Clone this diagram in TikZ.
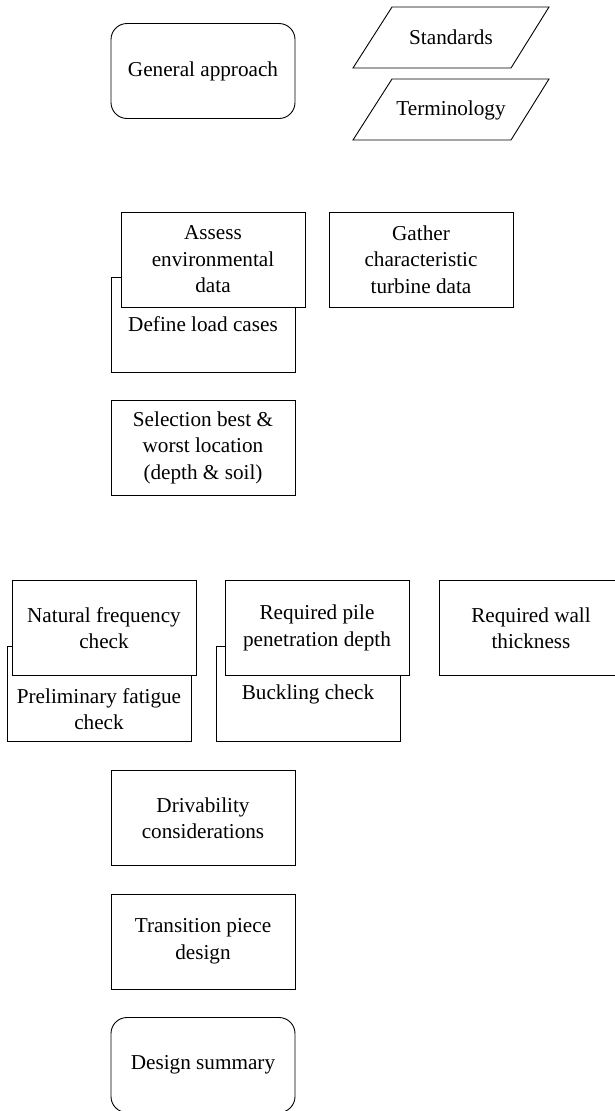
\documentclass[tikz,border=0pt]{standalone}
\usepackage{fontspec}
\setmainfont{Liberation Serif}

\tikzset{
	txt/.style={align=center, inner sep=0pt, font=\fontsize{21.2}{26.5}\selectfont},
	box/.style={txt, draw, fill=white, line width=0.9pt, minimum width=184pt, minimum height=95pt},
	terminal/.style={box, rounded corners=16pt},
	io/.style={line width=0.9pt, fill=white},
}

\begin{document}
\begin{tikzpicture}[x=1pt,y=-1pt]
	\useasboundingbox (0,0) rectangle (615,1111);

	% Start
	\node (general) at (203,71) [terminal] {General approach};

	% Inputs
	\draw[io] (392,7) -- (549,7) -- (511,68) -- (353,68) -- cycle;
	\node (standards) at (451,37) [txt] {Standards};
	\draw[io] (392,79) -- (549,79) -- (511,140) -- (353,140) -- cycle;
	\node (terminology) at (451,110) [txt] {Terminology};

	% Data
	\node (loadcases) at (203,324.5) [box] {Define load cases};
	\node (assess) at (213,259.5) [box] {Assess\\environmental\\data};
	\node (gather) at (421,259.5) [box] {Gather\\characteristic\\turbine data};
	\node (selection) at (203,447.5) [box] {Selection best \&\\worst location\\(depth \& soil)};

	% Checks
	\node (fatigue) at (99,694) [box] {};
	\node (fatiguetxt) at ([yshift=-15pt]fatigue.center) [txt] {Preliminary fatigue\\check};
	\node (frequency) at (104,628) [box] {Natural frequency\\check};
	\node (buckling) at (308,694) [box] {Buckling check};
	\node (penetration) at (317,628) [box] {Required pile\\penetration depth};
	\node (wall) at (531,628) [box] {Required wall\\thickness};

	% Design
	\node (drivability) at (203,818) [box] {Drivability\\considerations};
	\node (transition) at (203,941.5) [box] {Transition piece\\design};

	% End
	\node (summary) at (203,1065) [terminal] {Design summary};

\end{tikzpicture}
\end{document}
